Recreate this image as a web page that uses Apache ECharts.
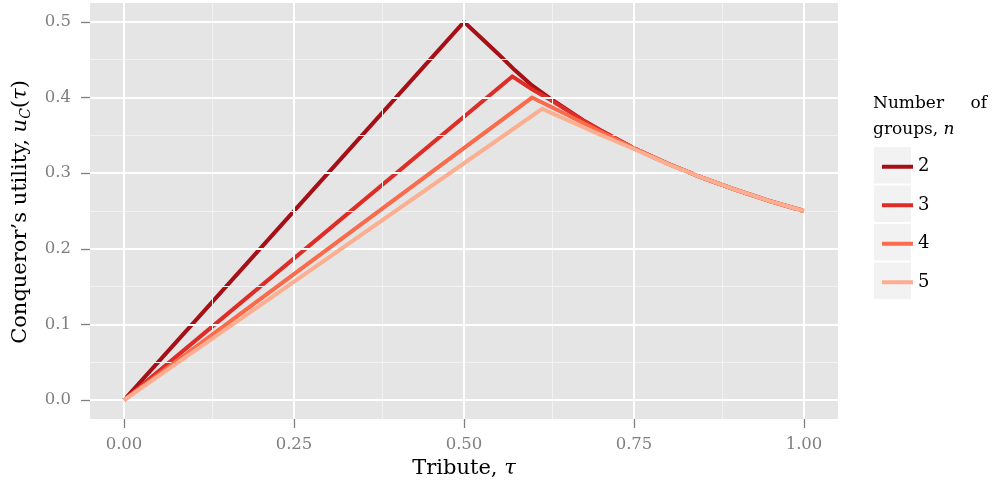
<!DOCTYPE html>
<html>
<head>
<meta charset="utf-8">
<script src="https://cdn.jsdelivr.net/npm/echarts@6/dist/echarts.min.js"></script>
<style>
html,body{margin:0;padding:0;background:#fff;}
#chart{width:993px;height:489px;}
</style>
</head>
<body>
<div id="chart"></div>
<script>
// ---- data ----
var groups = ['2', '3', '4', '5'];
var colors = ['#a50f15', '#de2d26', '#fb6a4a', '#fcae91'];

var tau2 = [0, 0.5, 0.525, 0.55, 0.575, 0.6, 0.625, 0.65, 0.675, 0.7, 0.75, 0.8, 0.85, 0.9, 0.95, 1.0];
var u2   = [0, 0.5, 0.479, 0.458, 0.436, 0.416, 0.400, 0.385, 0.370, 0.357, 0.333, 0.3125, 0.294, 0.278, 0.263, 0.25];

var tau3 = [0, 0.571, 0.6, 0.625, 0.65, 0.675, 0.7, 0.75, 0.8, 0.85, 0.9, 0.95, 1.0];
var u3   = [0, 0.428, 0.411, 0.398, 0.384, 0.370, 0.357, 0.333, 0.3125, 0.294, 0.278, 0.263, 0.25];

var tau4 = [0, 0.6, 0.65, 0.7, 0.75, 0.8, 0.85, 0.9, 0.95, 1.0];
var u4   = [0, 0.400, 0.378, 0.355, 0.333, 0.3125, 0.294, 0.278, 0.263, 0.25];

var tau5 = [0, 0.615, 0.65, 0.7, 0.75, 0.8, 0.85, 0.9, 0.95, 1.0];
var u5   = [0, 0.385, 0.371, 0.351, 0.332, 0.312, 0.294, 0.278, 0.263, 0.25];

var xTicks = [0, 0.25, 0.5, 0.75, 1.0];
var xTickLabels = ['0.00', '0.25', '0.50', '0.75', '1.00'];
var xMinor = [0.125, 0.375, 0.625, 0.875];
var yTicks = [0, 0.1, 0.2, 0.3, 0.4, 0.5];
var yTickLabels = ['0.0', '0.1', '0.2', '0.3', '0.4', '0.5'];
var yMinor = [0.05, 0.15, 0.25, 0.35, 0.45];

// ---- build ----
var FONT = '"DejaVu Serif", "Liberation Serif", serif';
function pairs(xs, ys) { return xs.map(function (x, i) { return [x, ys[i]]; }); }
var taus = [tau2, tau3, tau4, tau5];
var us = [u2, u3, u4, u5];

var gridLines = [];
xMinor.forEach(function (v) { gridLines.push({ xAxis: v, lineStyle: { color: '#f2f2f2', width: 1, type: 'solid' } }); });
yMinor.forEach(function (v) { gridLines.push({ yAxis: v, lineStyle: { color: '#f2f2f2', width: 1, type: 'solid' } }); });
xTicks.forEach(function (v) { gridLines.push({ xAxis: v, lineStyle: { color: '#ffffff', width: 2, type: 'solid' } }); });
yTicks.forEach(function (v) { gridLines.push({ yAxis: v, lineStyle: { color: '#ffffff', width: 2, type: 'solid' } }); });

var series = [{
  name: '__grid',
  type: 'line',
  data: [[0, 0]],
  showSymbol: false,
  symbol: 'none',
  lineStyle: { opacity: 0 },
  silent: true,
  z: 1,
  markLine: {
    silent: true,
    symbol: ['none', 'none'],
    label: { show: false },
    animation: false,
    data: gridLines
  }
}];
groups.forEach(function (g, i) {
  series.push({
    name: g,
    type: 'line',
    data: pairs(taus[i], us[i]),
    showSymbol: false,
    symbol: 'none',
    z: 3 + i,
    itemStyle: { color: colors[i] },
    lineStyle: { color: colors[i], width: 4, cap: 'butt', join: 'miter' }
  });
});

var legendBoxes = groups.map(function (g, i) {
  return { type: 'rect', z: 1, shape: { x: 874, y: 147 + i * 38.5, width: 37, height: 36.5 }, style: { fill: '#f2f2f2' } };
});

var chart = echarts.init(document.getElementById('chart'), null, { renderer: 'canvas' });
chart.setOption({
  animation: false,
  backgroundColor: '#ffffff',
  grid: { left: 90, right: 155, top: 3, bottom: 70, show: true, backgroundColor: '#e5e5e5', borderWidth: 0, containLabel: false },
  xAxis: {
    type: 'value', min: -0.05, max: 1.05,
    axisLine: { show: false, onZero: false },
    axisTick: { show: true, customValues: xTicks, length: 9, lineStyle: { color: '#7f7f7f', width: 1.3 } },
    axisLabel: {
      customValues: xTicks, margin: 17, color: '#7f7f7f', fontSize: 16.5, fontFamily: FONT,
      formatter: function (v) { var k = xTicks.indexOf(v); return k >= 0 ? xTickLabels[k] : ''; }
    },
    splitLine: { show: false }
  },
  yAxis: {
    type: 'value', min: -0.025, max: 0.525,
    axisLine: { show: false, onZero: false },
    axisTick: { show: true, customValues: yTicks, length: 9, lineStyle: { color: '#7f7f7f', width: 1.3 } },
    axisLabel: {
      customValues: yTicks, margin: 19, color: '#7f7f7f', fontSize: 16.5, fontFamily: FONT,
      formatter: function (v) { var k = yTicks.indexOf(v); return k >= 0 ? yTickLabels[k] : ''; }
    },
    splitLine: { show: false }
  },
  legend: {
    data: groups,
    orient: 'vertical',
    left: 877, top: 142.5,
    itemWidth: 31, itemHeight: 4, itemGap: 0,
    icon: 'rect',
    textStyle: { color: '#000', fontSize: 18, fontFamily: FONT, lineHeight: 38.5 },
    selectedMode: false
  },
  graphic: legendBoxes.concat([
    { type: 'text', z: 5, x: 873, y: 104, style: { text: 'Number', fill: '#000', fontSize: 17, fontFamily: FONT, align: 'left', verticalAlign: 'middle' } },
    { type: 'text', z: 5, x: 987, y: 104, style: { text: 'of', fill: '#000', fontSize: 17, fontFamily: FONT, align: 'right', verticalAlign: 'middle' } },
    { type: 'text', z: 5, x: 873, y: 130, style: {
        text: 'groups, {i|n}', fill: '#000', fontSize: 17, fontFamily: FONT, align: 'left', verticalAlign: 'middle',
        rich: { i: { fontStyle: 'italic', fontSize: 17, fontFamily: FONT, fill: '#000' } } } },
    { type: 'text', z: 5, x: 464, y: 469, style: {
        text: 'Tribute, {i|τ}', fill: '#000', fontSize: 21, fontFamily: FONT, align: 'center', verticalAlign: 'middle',
        rich: { i: { fontStyle: 'italic', fontSize: 21, fontFamily: FONT, fill: '#000' } } } },
    { type: 'text', z: 5, x: 21, y: 212, rotation: Math.PI / 2, style: {
        text: 'Conqueror\u2019s utility, {i|u}{s|C}({i|τ})', fill: '#000', fontSize: 21, fontFamily: FONT, align: 'center', verticalAlign: 'middle',
        rich: {
          i: { fontStyle: 'italic', fontSize: 21, fontFamily: FONT, fill: '#000' },
          s: { fontStyle: 'italic', fontSize: 14, fontFamily: FONT, fill: '#000', padding: [10, 0, 0, 0] }
        } } }
  ]),
  series: series
});
</script>
</body>
</html>
